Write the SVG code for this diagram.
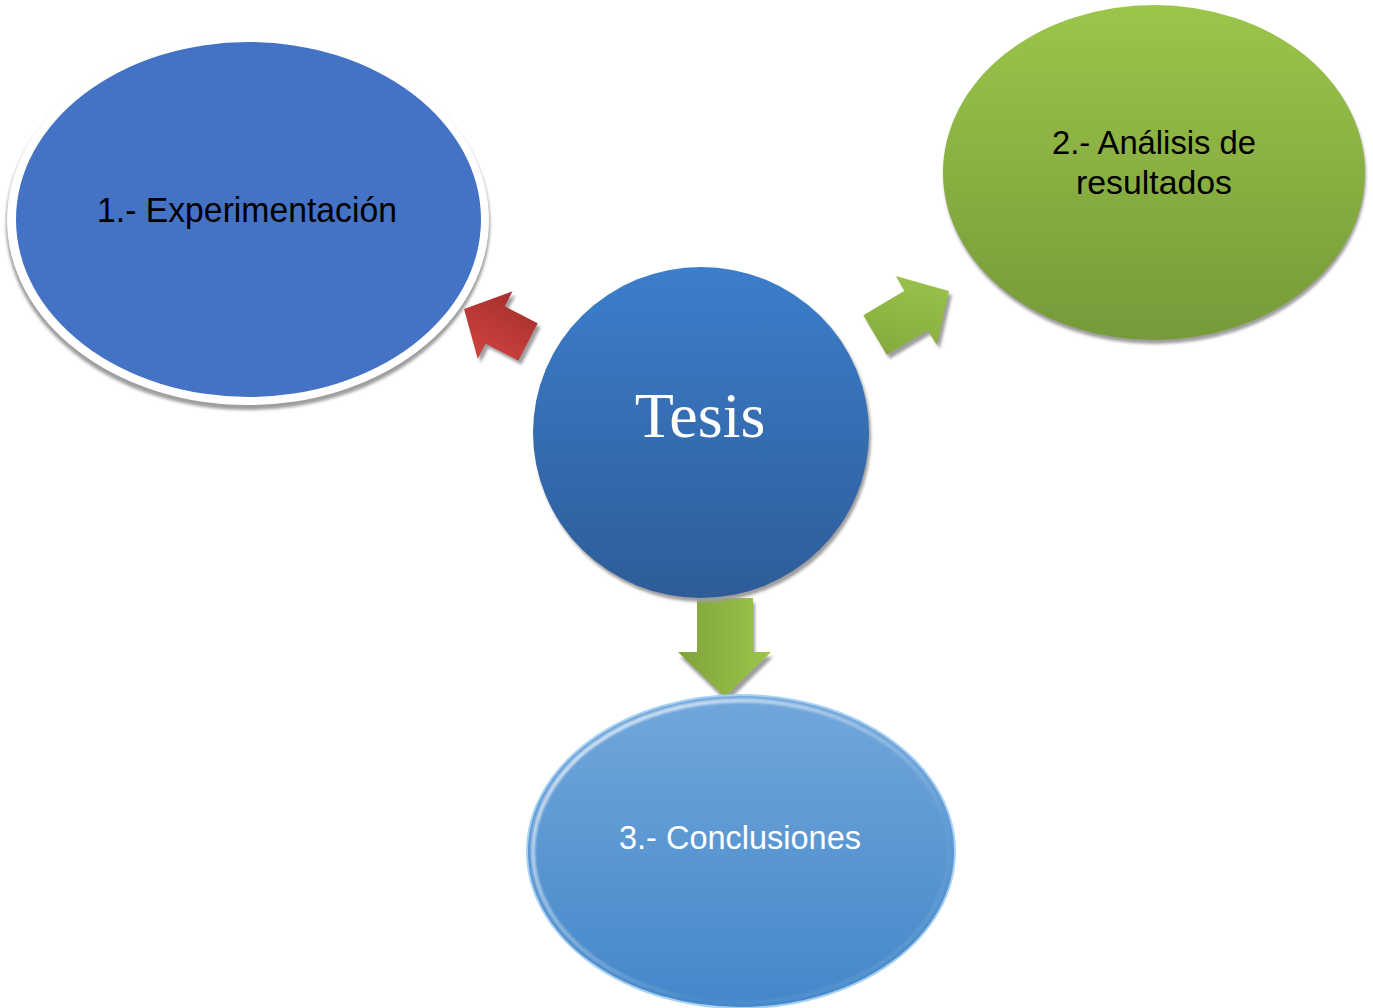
<svg xmlns="http://www.w3.org/2000/svg" width="1373" height="1008" viewBox="0 0 1373 1008">
  <style>
    .lbl { font-family: "Liberation Sans", Arial, sans-serif; text-anchor: middle; }
    .dark { fill: #000000; }
    .light { fill: #FFFFFF; }
    .shadow { fill: #9E9E9E; filter: url(#blur); }
  </style>
  <defs>
    <filter id="blur" x="-10%" y="-10%" width="120%" height="120%">
      <feGaussianBlur stdDeviation="1.5"/>
    </filter>
    <filter id="blur2" x="-10%" y="-10%" width="120%" height="120%">
      <feGaussianBlur stdDeviation="1.2"/>
    </filter>
    <linearGradient id="gTesis" x1="0" y1="0" x2="0" y2="1">
      <stop offset="0" stop-color="#3C7ECB"/>
      <stop offset="1" stop-color="#2E5C99"/>
    </linearGradient>
    <linearGradient id="gGreen" x1="0" y1="0" x2="0" y2="1">
      <stop offset="0" stop-color="#9CC54A"/>
      <stop offset="1" stop-color="#769A39"/>
    </linearGradient>
    <linearGradient id="gLight" x1="0" y1="0" x2="0" y2="1">
      <stop offset="0" stop-color="#72A7DB"/>
      <stop offset="1" stop-color="#4387C9"/>
    </linearGradient>
    <linearGradient id="gRim" x1="0" y1="0" x2="1" y2="1">
      <stop offset="0" stop-color="#FFFFFF" stop-opacity="0.85"/>
      <stop offset="0.45" stop-color="#FFFFFF" stop-opacity="0.3"/>
      <stop offset="0.7" stop-color="#FFFFFF" stop-opacity="0.02"/>
      <stop offset="1" stop-color="#FFFFFF" stop-opacity="0.15"/>
    </linearGradient>
    <linearGradient id="gRed" x1="0" y1="0" x2="0" y2="1">
      <stop offset="0" stop-color="#D0433F"/>
      <stop offset="1" stop-color="#A5302D"/>
    </linearGradient>
    <linearGradient id="gArrowG" x1="0" y1="0" x2="1" y2="0">
      <stop offset="0" stop-color="#7FA33A"/>
      <stop offset="1" stop-color="#9DC54B"/>
    </linearGradient>
    <linearGradient id="gArrowGd" x1="0" y1="1" x2="1" y2="0">
      <stop offset="0" stop-color="#82A73C"/>
      <stop offset="1" stop-color="#9FC74D"/>
    </linearGradient>
    <path id="arrowRed" d="M0,-21 L37,-21 L37,-38 L72,0 L37,38 L37,21 L0,21 Z"/>
    <path id="arrowNE" d="M0,-23 L48,-23 L48,-40 L86,0 L48,40 L48,23 L0,23 Z"/>
    <path id="arrowDown" d="M697,598 L753,598 L753,652 L771,652 L725,697 L678,652 L697,652 Z"/>
  </defs>

  <rect width="1373" height="1008" fill="#FFFFFF"/>

  <g id="connectors">
    <g id="arrow-1">
      <use href="#arrowRed" class="shadow" transform="translate(531,346) rotate(207.3)"/>
      <use href="#arrowRed" fill="url(#gRed)" transform="translate(528,342) rotate(207.3)"/>
    </g>
    <g id="arrow-2">
      <use href="#arrowNE" class="shadow" transform="translate(878,339) rotate(-30.7)"/>
      <use href="#arrowNE" fill="url(#gArrowGd)" transform="translate(875,335) rotate(-30.7)"/>
    </g>
    <g id="arrow-3">
      <use href="#arrowDown" class="shadow" transform="translate(2,5)"/>
      <use href="#arrowDown" fill="url(#gArrowG)"/>
    </g>
  </g>

  <g id="node-experimentacion">
    <ellipse cx="248" cy="224" rx="242" ry="186" class="shadow"/>
    <ellipse cx="248" cy="220" rx="241" ry="185" fill="#FFFFFF"/>
    <ellipse cx="248.5" cy="219.5" rx="232.5" ry="177.5" fill="#4472C4"/>
    <text x="247" y="222" class="lbl dark" font-size="35" textLength="300" lengthAdjust="spacingAndGlyphs">1.- Experimentación</text>
  </g>

  <g id="node-analisis">
    <ellipse cx="1155" cy="176" rx="211" ry="168" class="shadow"/>
    <ellipse cx="1154" cy="172.5" rx="211" ry="167.5" fill="url(#gGreen)"/>
    <text x="1154" y="154" class="lbl dark" font-size="34" textLength="204" lengthAdjust="spacingAndGlyphs">2.- Análisis de</text>
    <text x="1154" y="194" class="lbl dark" font-size="34" textLength="156" lengthAdjust="spacingAndGlyphs">resultados</text>
  </g>

  <g id="node-tesis">
    <ellipse cx="703" cy="436" rx="168" ry="166" class="shadow"/>
    <ellipse cx="701" cy="432.5" rx="168" ry="165.5" fill="url(#gTesis)"/>
    <text x="700" y="437" text-anchor="middle" font-family="Liberation Serif, 'Times New Roman', serif" font-size="64" class="light">Tesis</text>
  </g>

  <g id="node-conclusiones">
    <ellipse cx="741" cy="851.5" rx="214" ry="156.5" fill="url(#gLight)" stroke="#A9D1F3" stroke-width="2"/>
    <ellipse cx="741" cy="851.5" rx="208" ry="151" fill="none" stroke="url(#gRim)" stroke-width="4" filter="url(#blur2)"/>
    <text x="740" y="849" class="lbl light" font-size="33" textLength="242" lengthAdjust="spacingAndGlyphs">3.- Conclusiones</text>
  </g>
</svg>
